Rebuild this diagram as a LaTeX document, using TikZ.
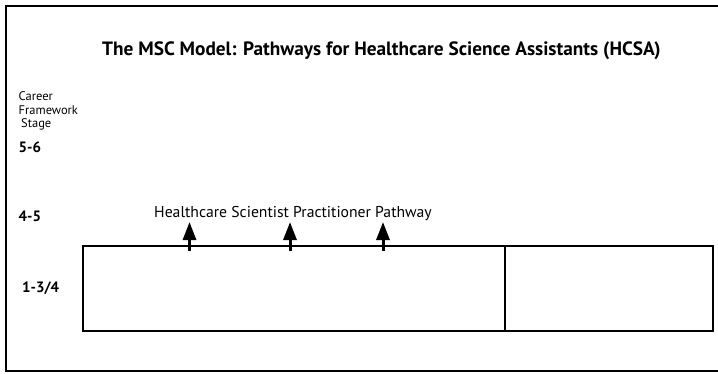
\documentclass[tikz,border=0pt]{standalone}
\usepackage{fontspec}
\setmainfont{PT Sans}
\usetikzlibrary{arrows.meta}

\tikzset{
  stagelabel/.style={anchor=base west, inner sep=0pt, font=\fontsize{15}{18}\selectfont\bfseries},
  smalllabel/.style={anchor=base west, inner sep=0pt, font=\fontsize{12.5}{15}\selectfont},
  uparrow/.style={line width=3pt, -{Triangle[length=18pt,width=13pt]}}
}

\begin{document}
\begin{tikzpicture}[x=1pt,y=-1pt]
        \useasboundingbox (0,0) rectangle (718,373);

        % Outer frame, open on the right
        \draw[line width=2pt] (718,6) -- (6,6) -- (6,371) -- (718,371);

        % Title
        \node[anchor=base, inner sep=0pt, font=\fontsize{19.3}{23}\selectfont\bfseries] (title) at (381.5,55)
            {The MSC Model: Pathways for Healthcare Science Assistants (HCSA)};

        % Career framework stages
        \node[smalllabel] (career) at (18.5,100.7) {Career};
        \node[smalllabel] (framework) at (18.5,114.7) {Framework};
        \node[smalllabel] (stage) at (21,127.7) {Stage};
        \node[stagelabel] (s56) at (18.5,152) {5-6};
        \node[stagelabel] (s45) at (18.5,221) {4-5};
        \node[stagelabel] (s13) at (22,292.7) {1-3/4};

        % Boxes
        \draw[line width=2pt] (83,246) rectangle (505,331);
        \draw[line width=2pt] (505,246) rectangle (713,331);

        % Pathway and arrows
        \node[anchor=base west, inner sep=0pt, font=\fontsize{15.7}{19}\selectfont] (pathway) at (154,217)
            {Healthcare Scientist Practitioner Pathway};
        \foreach \i/\x in {1/189.5, 2/290, 3/383} {
            \coordinate (foot\i) at (\x,251);
            \coordinate (tip\i) at (\x,222);
            \draw[uparrow] (foot\i) -- (tip\i);
        }
    \end{tikzpicture}
\end{document}
